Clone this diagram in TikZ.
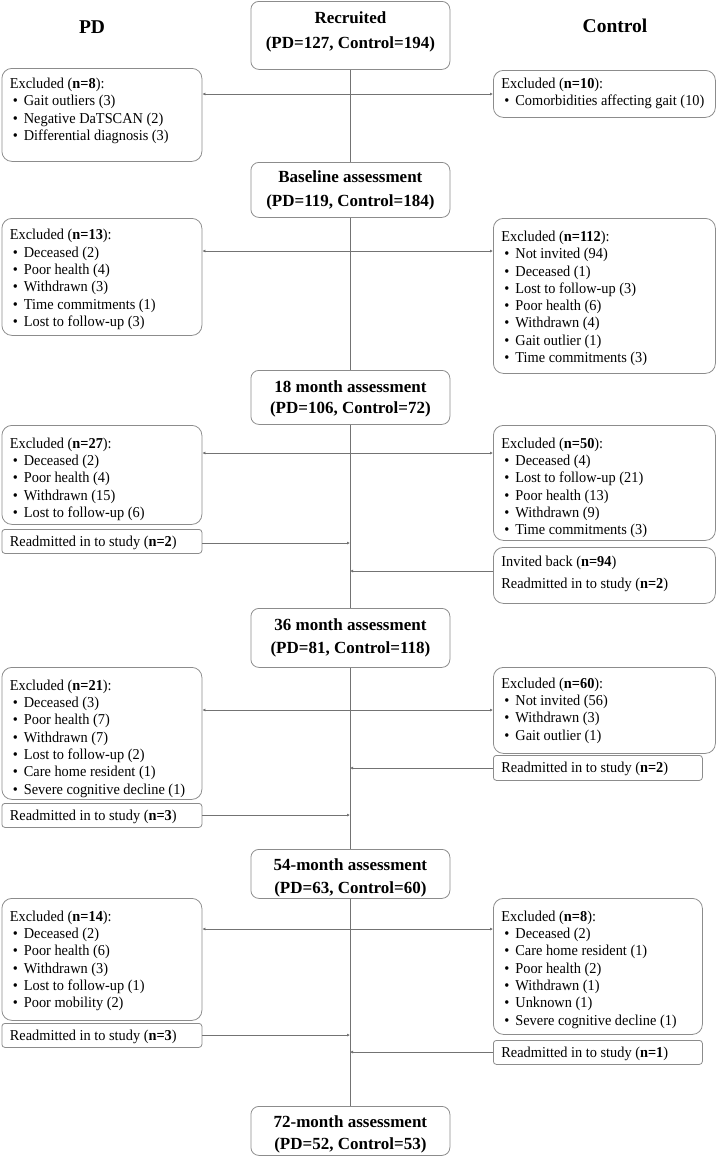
\documentclass[tikz,border=0pt]{standalone}
\usepackage{fontspec}
\setmainfont{Liberation Serif}
\newfontfamily\bodyfont{Liberation Serif}[FakeStretch=0.95]
\usetikzlibrary{arrows.meta}
\definecolor{boxline}{gray}{0.55}
\definecolor{connline}{gray}{0.45}
\newcommand{\bxt}[4]{\parbox[t][#1][t]{#2}{\bodyfont\fontsize{15.1}{17.3}\selectfont\raggedright\rule{0pt}{#3}#4}}
\newcommand{\itm}{\\\hspace*{3pt}\makebox[11pt][l]{\textbullet}}
\newcommand{\ttlt}[4]{\parbox[t][#1][t]{199pt}{\centering\bfseries\fontsize{17}{#3}\selectfont\rule{0pt}{#2}#4}}
\tikzset{
  exbox/.style={draw=boxline, line width=0.8pt, rounded corners=10pt, inner xsep=8pt, inner ysep=0pt, anchor=north west},
  rebox/.style={exbox, rounded corners=3pt},
  ttl/.style={draw=boxline, line width=0.8pt, rounded corners=8pt, inner sep=0pt, anchor=north west},
  grp/.style={font=\bfseries\fontsize{19.5}{22}\selectfont, inner sep=0pt},
  conn/.style={draw=connline, line width=0.8pt},
  arr/.style={conn, -{Latex[length=3pt,width=3pt]}}
}
\begin{document}
\begin{tikzpicture}[x=1pt,y=-1pt]
\useasboundingbox (0,0) rectangle (716,1157);
% group labels
\node[grp] (pd) at (92,27) {PD};
\node[grp] (ctl) at (615,26) {Control};
% title boxes
\node[ttl] (rec) at (250.5,1) {\ttlt{68pt}{22.5pt}{25pt}{Recruited\\(PD=127, Control=194)}};
\node[ttl] (base) at (250.5,162) {\ttlt{55pt}{20.5pt}{23.5pt}{Baseline assessment\\(PD=119, Control=184)}};
\node[ttl] (m18) at (250.5,370) {\ttlt{54pt}{22pt}{21pt}{18 month assessment\\(PD=106, Control=72)}};
\node[ttl] (m36) at (250.5,608) {\ttlt{59pt}{22.5pt}{22.5pt}{36 month assessment\\(PD=81, Control=118)}};
\node[ttl] (m54) at (250.5,849) {\ttlt{49pt}{21.5pt}{23pt}{54-month assessment\\(PD=63, Control=60)}};
\node[ttl] (m72) at (250.5,1106) {\ttlt{49pt}{21.5pt}{21.5pt}{72-month assessment\\(PD=52, Control=53)}};
% row 1
\node[exbox] (exL1) at (1.5,68) {\bxt{93pt}{184pt}{20pt}{Excluded (\textbf{n=8}):\itm Gait outliers (3)\itm Negative DaTSCAN (2)\itm Differential diagnosis (3)}};
\node[exbox] (exR1) at (493,70) {\bxt{47pt}{206pt}{18pt}{Excluded (\textbf{n=10}):\itm Comorbidities affecting gait (10)}};
% row 2
\node[exbox] (exL2) at (1.5,218) {\bxt{117pt}{184pt}{21.5pt}{Excluded (\textbf{n=13}):\itm Deceased (2)\itm Poor health (4)\itm Withdrawn (3)\itm Time commitments (1)\itm Lost to follow-up (3)}};
\node[exbox] (exR2) at (493,218) {\bxt{155pt}{206pt}{23pt}{Excluded (\textbf{n=112}):\itm Not invited (94)\itm Deceased (1)\itm Lost to follow-up (3)\itm Poor health (6)\itm Withdrawn (4)\itm Gait outlier (1)\itm Time commitments (3)}};
% row 3
\node[exbox] (exL3) at (1.5,425) {\bxt{99pt}{184pt}{22.8pt}{Excluded (\textbf{n=27}):\itm Deceased (2)\itm Poor health (4)\itm Withdrawn (15)\itm Lost to follow-up (6)}};
\node[exbox] (exR3) at (493,425) {\bxt{115pt}{206pt}{22.8pt}{Excluded (\textbf{n=50}):\itm Deceased (4)\itm Lost to follow-up (21)\itm Poor health (13)\itm Withdrawn (9)\itm Time commitments (3)}};
\node[rebox] (reL3) at (1.5,529) {\bxt{24pt}{184pt}{17.5pt}{Readmitted in to study (\textbf{n=2})}};
\node[exbox] (invR3) at (493,547) {\parbox[t][56pt][t]{206pt}{\bodyfont\fontsize{15.1}{22}\selectfont\raggedright\rule{0pt}{18.8pt}Invited back (\textbf{n=94})\\Readmitted in to study (\textbf{n=2})}};
% row 4
\node[exbox] (exL4) at (1.5,667) {\bxt{132pt}{184pt}{22.8pt}{Excluded (\textbf{n=21}):\itm Deceased (3)\itm Poor health (7)\itm Withdrawn (7)\itm Lost to follow-up (2)\itm Care home resident (1)\itm Severe cognitive decline (1)}};
\node[exbox] (exR4) at (493,667) {\bxt{86pt}{206pt}{20.8pt}{Excluded (\textbf{n=60}):\itm Not invited (56)\itm Withdrawn (3)\itm Gait outlier (1)}};
\node[rebox] (reR4) at (493,755) {\bxt{25pt}{193pt}{17.5pt}{Readmitted in to study (\textbf{n=2})}};
\node[rebox] (reL4) at (1.5,803) {\bxt{24pt}{184pt}{17pt}{Readmitted in to study (\textbf{n=3})}};
% row 5
\node[exbox] (exL5) at (1.5,898) {\bxt{122pt}{184pt}{22.8pt}{Excluded (\textbf{n=14}):\itm Deceased (2)\itm Poor health (6)\itm Withdrawn (3)\itm Lost to follow-up (1)\itm Poor mobility (2)}};
\node[exbox] (exR5) at (493,898) {\bxt{136pt}{193pt}{22.8pt}{Excluded (\textbf{n=8}):\itm Deceased (2)\itm Care home resident (1)\itm Poor health (2)\itm Withdrawn (1)\itm Unknown (1)\itm Severe cognitive decline (1)}};
\node[rebox] (reL5) at (1.5,1023) {\bxt{24pt}{184pt}{17pt}{Readmitted in to study (\textbf{n=3})}};
\node[rebox] (reR5) at (493,1040) {\bxt{24pt}{193pt}{17pt}{Readmitted in to study (\textbf{n=1})}};
% main vertical flow
\draw[conn] (rec) -- (base);
\draw[conn] (base) -- (m18);
\draw[conn] (m18) -- (m36);
\draw[conn] (m36) -- (m54);
\draw[conn] (m54) -- (m72);
% junctions on the flow line
\coordinate (j1) at (350,94);
\coordinate (j2) at (350,251);
\coordinate (j3) at (350,453);
\coordinate (j4) at (350,710);
\coordinate (j5) at (350,929);
\foreach \j/\l/\r in {j1/exL1/exR1, j2/exL2/exR2, j3/exL3/exR3, j4/exL4/exR4, j5/exL5/exR5}{
  \draw[arr] (\j) -- (\j -| \l.east);
  \draw[arr] (\j) -- (\j -| \r.west);
}
% readmissions
\coordinate (k1) at (350,543);
\coordinate (k2) at (350,571);
\coordinate (k3) at (350,768);
\coordinate (k4) at (350,815);
\coordinate (k5) at (350,1035);
\coordinate (k6) at (350,1052);
\draw[arr] (k1 -| reL3.east) -- (k1);
\draw[arr] (k2 -| invR3.west) -- (k2);
\draw[arr] (k3 -| reR4.west) -- (k3);
\draw[arr] (k4 -| reL4.east) -- (k4);
\draw[arr] (k5 -| reL5.east) -- (k5);
\draw[arr] (k6 -| reR5.west) -- (k6);
\end{tikzpicture}
\end{document}
